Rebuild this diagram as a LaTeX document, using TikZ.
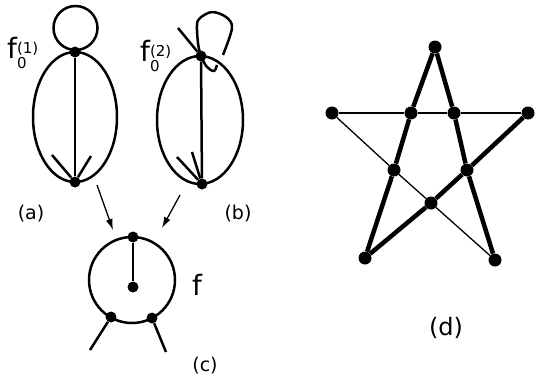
\documentclass[tikz,border=0pt]{standalone}
\usepackage{fontspec}
\setmainfont{DejaVu Sans}
\usepackage{tikz}
\usetikzlibrary{arrows.meta}
\tikzset{
    dot/.style={circle, fill, inner sep=0pt, minimum size=11pt},
    stardot/.style={circle, fill, inner sep=0pt, minimum size=13pt},
    graphline/.style={line width=2.5pt},
    heavyline/.style={line width=4.5pt},
    lightline/.style={line width=1.3pt},
    tag/.style={font=\fontsize{19}{21}\selectfont, inner sep=0pt, anchor=base},
    flabel/.style={font=\fontsize{28}{30}\selectfont, inner sep=0pt, anchor=base west},
    merge/.style={line width=1.3pt, -{Latex[length=11pt,width=7pt]}}
}
\newcommand{\fzero}[1]{f\rlap{\raisebox{5pt}{\fontsize{15}{15}\selectfont(#1)}}\raisebox{-10pt}{\fontsize{15}{15}\selectfont 0}}

\begin{document}
\begin{tikzpicture}[x=1pt, y=-1pt]
    \useasboundingbox (0,0) rectangle (535,378);

    % graph (a)
    \node (atop) [dot] at (75,52) {};
    \node (abot) [dot] at (75,182) {};
    \coordinate (aleft) at (52,155);
    \coordinate (aright) at (91,156);
    \draw [graphline] (75,117) ellipse [x radius=42, y radius=65];
    \draw [graphline] (75.5,28) circle [radius=22];
    \draw [graphline] (atop) -- (abot);
    \draw [graphline] (abot) -- (aleft);
    \draw [graphline] (abot) -- (aright);
    \node (fa) [flabel] at (7,58) {\fzero{1}};
    \node (capa) [tag] at (31,219) {(a)};

    % graph (b)
    \node (btop) [dot] at (201,56) {};
    \node (bbot) [dot] at (202,184) {};
    \coordinate (bleft) at (177,157);
    \coordinate (bmid) at (192,152);
    \coordinate (bstub) at (178,28);
    \draw [graphline] (200,120) ellipse [x radius=43, y radius=64];
    \draw [graphline] (btop) -- (bbot);
    \draw [graphline] (bbot) -- (bleft);
    \draw [graphline] (bbot) -- (bmid);
    \draw [graphline] (btop) -- (bstub);
    \draw [graphline, line join=round] plot [smooth, tension=0.55] coordinates
        {(217,65) (214,71) (207,67) (btop.center) (198,43) (197,25) (200,18)
         (212,12) (226,17) (232,28) (223,55)};
    \node (fb) [flabel] at (140,61) {\fzero{2}};
    \node (capb) [tag] at (238,219) {(b)};

    % graph (c)
    \node (ctop) [dot] at (133,237) {};
    \node (cmid) [dot] at (133,287) {};
    \node (cl) [dot] at (111,317) {};
    \node (cr) [dot] at (152,318) {};
    \coordinate (clout) at (90,350);
    \coordinate (crout) at (166,352);
    \draw [graphline] (132,280) circle [radius=43];
    \draw [graphline] (ctop) -- (cmid);
    \draw [graphline] (cl) -- (clout);
    \draw [graphline] (cr) -- (crout);
    \node (fc) [flabel] at (192,295) {f};
    \node (capc) [tag] at (205,371) {(c)};

    % merging arrows
    \coordinate (froma) at (97,185);
    \coordinate (toa) at (113,230);
    \coordinate (fromb) at (180,195);
    \coordinate (tob) at (162,228);
    \draw [merge] (froma) -- (toa);
    \draw [merge] (fromb) -- (tob);

    % star (d)
    \node (top) [stardot] at (435,47) {};
    \node (lt) [stardot] at (332,113) {};
    \node (rt) [stardot] at (528,113) {};
    \node (bl) [stardot] at (365,258) {};
    \node (br) [stardot] at (495,260) {};
    \node (ul) [stardot] at (411,113) {};
    \node (ur) [stardot] at (454,113) {};
    \node (ml) [stardot] at (394,170) {};
    \node (mr) [stardot] at (467,170) {};
    \node (bc) [stardot] at (431,203) {};
    \draw [heavyline] (top) -- (ul) -- (ml) -- (bl);
    \draw [heavyline] (top) -- (ur) -- (mr) -- (br);
    \draw [heavyline] (bl) -- (bc) -- (mr) -- (rt);
    \draw [lightline] (lt) -- (ul) -- (ur) -- (rt);
    \draw [lightline] (lt) -- (ml) -- (bc) -- (br);
    \node (capd) [tag, font=\fontsize{24}{26}\selectfont] at (446,335) {(d)};
\end{tikzpicture}
\end{document}
